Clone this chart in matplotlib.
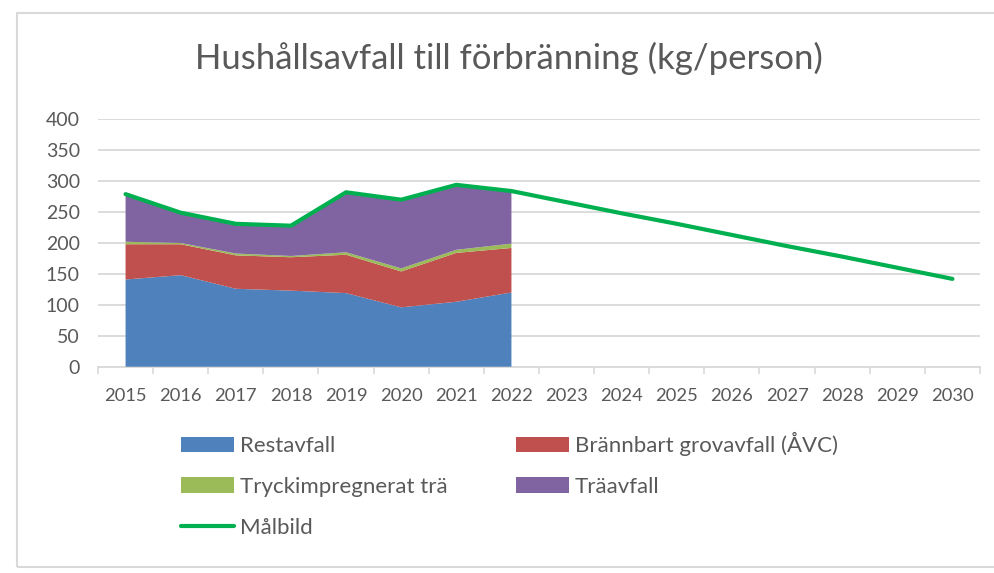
import matplotlib
matplotlib.use('Agg')
import numpy as np
import matplotlib.pyplot as plt
from matplotlib.patches import Rectangle

# kg/person
years = ["2015", "2016", "2017", "2018", "2019", "2020", "2021", "2022",
         "2023", "2024", "2025", "2026", "2027", "2028", "2029", "2030"]
restavfall = [141, 148, 126, 123, 119, 96, 105, 120]
brannbart = [57, 50, 54, 54, 62, 58, 79, 72]
tryckimpregnerat = [4, 2, 3, 2, 4, 5, 5, 7]
traavfall = [76, 49, 48, 49, 97, 110, 104, 84]
malbild = [279, 249, 231, 228, 282, 270, 294, 284,
           266, 248, 231, 213, 195, 178, 160, 142]

colors = ["#4f81bd", "#c0504d", "#9bbb59", "#8064a2"]
line_color = "#00b050"
text_color = "#595959"
grid_color = "#d9d9d9"

plt.rcParams['font.family'] = ['Lato', 'DejaVu Sans']

fig = plt.figure(figsize=(9.95, 5.73), dpi=100)
ax = fig.add_axes([98/995, 1 - 366.7/573, (980 - 98)/995, (366.7 - 119.3)/573])

x = np.arange(len(years))
n = len(restavfall)
polys = ax.stackplot(x[:n], restavfall, brannbart, tryckimpregnerat, traavfall,
                     colors=colors, zorder=2)
ln, = ax.plot(x, malbild, color=line_color, lw=3.0, zorder=3,
              solid_capstyle='round', solid_joinstyle='round')

ax.set_xlim(-0.5, len(years) - 0.5)
ax.set_ylim(0, 400)
ax.set_yticks(range(0, 401, 50))
ax.set_xticks(x)
ax.set_xticklabels(years)
ax.set_xticks(np.arange(-0.5, len(years), 1), minor=True)
ax.tick_params(axis='x', which='major', length=0, pad=15, labelsize=13.2, labelcolor=text_color)
ax.tick_params(axis='x', which='minor', length=5, color=grid_color, width=1.2)
ax.tick_params(axis='y', length=0, pad=13, labelsize=14, labelcolor=text_color)
ax.yaxis.grid(True, color=grid_color, lw=1.3, zorder=0)
ax.set_axisbelow(True)
for s in ["left", "right", "top"]:
    ax.spines[s].set_visible(False)
ax.spines["bottom"].set_color(grid_color)
ax.spines["bottom"].set_linewidth(1.3)
ax.spines["bottom"].set_zorder(1)

fig.text(509/995, 1 - 58/573, "Hushållsavfall till förbränning (kg/person)",
         ha='center', va='center', fontsize=25, color=text_color)

# legend ordered column-wise so rows read like the original
handles = [polys[0], polys[2], ln, polys[1], polys[3]]
labels = ["Restavfall", "Tryckimpregnerat trä", "Målbild",
          "Brännbart grovavfall (ÅVC)", "Träavfall"]
leg = fig.legend(handles, labels, ncol=2, frameon=False, loc='upper left',
                 bbox_to_anchor=(170/995, 1 - 421/573), fontsize=16, borderpad=0,
                 handlelength=2.4, handleheight=0.68, handletextpad=0.25,
                 labelspacing=0.93, columnspacing=3.08, labelcolor=text_color)

# outer chart border
fig.patches.append(Rectangle((17/995, 1 - 567/573), 1.0, (567 - 13)/573,
                             transform=fig.transFigure, fill=False,
                             edgecolor=grid_color, lw=1.5))

fig.savefig("out.png", dpi=100)
